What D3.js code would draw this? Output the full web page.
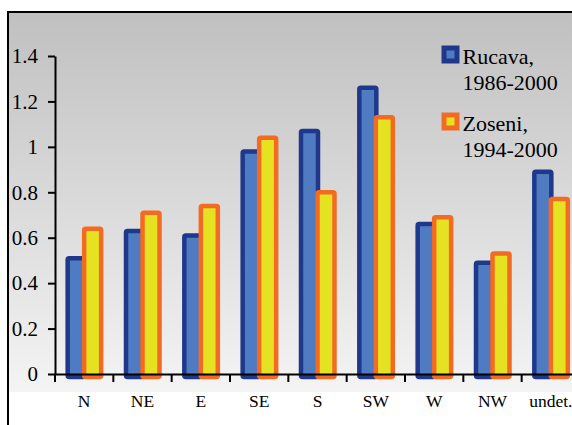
<!DOCTYPE html>
<html>
<head>
<meta charset="utf-8">
<script src="https://cdn.jsdelivr.net/npm/d3@7"></script>
<style>
  html, body { margin: 0; padding: 0; background: #ffffff; }
  svg { display: block; }
  svg text { font-family: "Liberation Serif", "DejaVu Serif", serif; fill: #000; }
</style>
</head>
<body>
<svg id="chart" width="572" height="425"></svg>
<script>
// Wind directions
const categories = ["N", "NE", "E", "SE", "S", "SW", "W", "NW", "undet."];
// Series values per direction
const rucava = [0.51, 0.63, 0.61, 0.98, 1.07, 1.26, 0.66, 0.49, 0.89];
const zoseni = [0.64, 0.71, 0.74, 1.04, 0.80, 1.13, 0.69, 0.53, 0.77];
const seriesNames = ["Rucava", "Zoseni"];
const legendLines = [["Rucava,", "1986-2000"], ["Zoseni,", "1994-2000"]];
// Value axis ticks
const yTicks = [0, 0.2, 0.4, 0.6, 0.8, 1, 1.2, 1.4];
const yTickLabels = ["0", "0.2", "0.4", "0.6", "0.8", "1", "1.2", "1.4"];

const FONT = "'Liberation Serif', 'DejaVu Serif', serif";

const styles = {
  Rucava: { fill: "#4f7bc3", stroke: "#1f388c" },
  Zoseni: { fill: "#e4e221", stroke: "#f36a22" }
};

const svg = d3.select("#chart");
const W = 572, H = 425;

// background gradient for the plot panel
const defs = svg.append("defs");
const grad = defs.append("linearGradient")
  .attr("id", "panelGrad").attr("x1", 0).attr("y1", 0).attr("x2", 0).attr("y2", 1);
grad.append("stop").attr("offset", "0%").attr("stop-color", "#c0c0c0");
grad.append("stop").attr("offset", "100%").attr("stop-color", "#f4f4f4");

// outer frame
svg.append("rect").attr("x", 8).attr("y", 12).attr("width", W + 20).attr("height", H + 20)
  .attr("fill", "#ffffff").attr("stroke", "#000").attr("stroke-width", 2);
svg.append("rect").attr("x", 9).attr("y", 13).attr("width", W).attr("height", 379)
  .attr("fill", "url(#panelGrad)");

// scales
const x = d3.scaleBand().domain(categories).range([55, 580]).padding(0);
const y = d3.scaleLinear().domain([0, 1.4]).range([374, 56]);
const sub = d3.scaleBand().domain(seriesNames).range([-16.5, 16.5]);
const barW = 17;

const rows = categories.map((c, i) => ({ cat: c, Rucava: rucava[i], Zoseni: zoseni[i] }));

// bars
const groups = svg.append("g").selectAll("g").data(rows).join("g")
  .attr("transform", d => `translate(${x(d.cat) + x.bandwidth() / 2},0)`);
groups.selectAll("rect")
  .data(d => seriesNames.map(s => ({ s, v: d[s] })))
  .join("rect")
  .attr("x", d => sub(d.s))
  .attr("y", d => y(d.v))
  .attr("width", barW)
  .attr("height", d => y(0) - y(d.v) + 3)
  .attr("rx", 1.5)
  .attr("fill", d => styles[d.s].fill)
  .attr("stroke", d => styles[d.s].stroke)
  .attr("stroke-width", 4.5);

// y axis
const yAxis = svg.append("g").attr("transform", "translate(55,0)")
  .call(d3.axisLeft(y).tickValues(yTicks).tickFormat((d, i) => yTickLabels[i])
    .tickSize(7).tickSizeOuter(0).tickPadding(10));
yAxis.attr("font-family", FONT);
yAxis.select(".domain").attr("stroke", "#000").attr("stroke-width", 2);
yAxis.selectAll(".tick line").attr("stroke", "#000").attr("stroke-width", 2);
yAxis.selectAll(".tick text").attr("font-size", 21).style("font-family", FONT).attr("fill", "#000");

// x axis: labels at band centres, tick marks at band boundaries
const xAxis = svg.append("g").attr("transform", "translate(0,374)")
  .call(d3.axisBottom(x).tickSize(0).tickSizeOuter(0).tickPadding(0));
xAxis.attr("font-family", FONT);
xAxis.select(".domain").attr("stroke", "#000").attr("stroke-width", 2);
xAxis.selectAll(".tick text").attr("font-size", 17.5).attr("y", 33).attr("dy", 0)
  .style("font-family", FONT).attr("fill", "#000");
xAxis.selectAll("line.bound").data(categories.concat([null])).join("line")
  .attr("class", "bound")
  .attr("x1", d => d === null ? x.range()[1] : x(d))
  .attr("x2", d => d === null ? x.range()[1] : x(d))
  .attr("y1", 0).attr("y2", 8)
  .attr("stroke", "#000").attr("stroke-width", 2);

// legend
const legend = svg.append("g").attr("transform", "translate(444,48)");
const items = legend.selectAll("g").data(seriesNames).join("g")
  .attr("transform", (d, i) => `translate(0,${i * 67})`);
items.append("rect").attr("x", 0).attr("y", 0).attr("width", 13).attr("height", 13)
  .attr("fill", d => styles[d].fill).attr("stroke", d => styles[d].stroke).attr("stroke-width", 5);
items.each(function (d, i) {
  const t = d3.select(this).append("text").attr("x", 18.5).attr("y", 16)
    .attr("font-size", 22).style("font-family", FONT);
  legendLines[i].forEach((line, j) => {
    t.append("tspan").attr("x", 18.5).attr("dy", j === 0 ? 0 : 26).text(line);
  });
});
</script>
</body>
</html>
